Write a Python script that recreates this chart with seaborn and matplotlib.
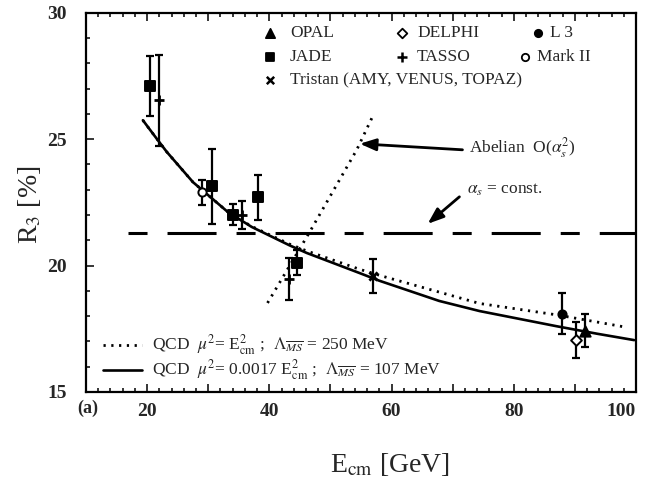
import matplotlib
matplotlib.use("Agg")
import matplotlib.pyplot as plt
from matplotlib.ticker import MultipleLocator, FuncFormatter
import pandas as pd
import seaborn as sns

# Three-jet rate measurements
experiment = ["JADE", "TASSO", "Mark II", "JADE", "JADE", "TASSO", "JADE",
              "TASSO", "JADE", "Tristan", "L3", "DELPHI", "OPAL"]
energy = [20.5, 21.9, 29.0, 30.6, 34.0, 35.6, 38.1, 43.2, 44.6, 56.9, 87.9, 90.2, 91.7]
r3 = [27.1, 26.55, 22.9, 23.13, 22.02, 22.0, 22.7, 19.48, 20.12, 19.6, 18.1, 17.06, 17.42]
r3_err = [1.2, 1.8, 0.5, 1.5, 0.4, 0.55, 0.9, 0.83, 0.5, 0.67, 0.8, 0.7, 0.65]

# QCD prediction, mu^2 = 0.0017 E^2, Lambda = 107 MeV
qcd_opt_e = [19.3, 21.0, 23.2, 27.5, 33.2, 37.1, 43.3, 46.1, 54.8, 58.0, 67.8, 74.4, 87.0, 93.7, 99.7]
qcd_opt_r = [25.75, 25.2, 24.5, 23.3, 22.12, 21.53, 20.8, 20.5, 19.7, 19.4, 18.6, 18.2, 17.6, 17.3, 17.05]
# QCD prediction, mu^2 = E^2, Lambda = 250 MeV
qcd_phys_e = [19.3, 21.0, 23.2, 27.5, 33.2, 37.1, 43.3, 46.1, 54.8, 58.5, 67.8, 74.4, 87.0, 94.0, 98.6]
qcd_phys_r = [25.75, 25.2, 24.5, 23.3, 22.12, 21.55, 20.85, 20.58, 19.85, 19.58, 18.95, 18.5, 18.05, 17.75, 17.55]
# Abelian O(alpha_s^2) prediction
abelian_e = [39.7, 46.6, 54.3, 56.8]
abelian_r = [18.52, 21.33, 24.58, 25.85]
# constant alpha_s
const_e = [16.9, 100.0]
const_r = [21.3, 21.3]

styles = {
    "OPAL":    dict(marker="^", facecolor="black", s=55),
    "DELPHI":  dict(marker="D", facecolor="white", s=30),
    "L3":      dict(marker="o", facecolor="black", s=35),
    "JADE":    dict(marker="s", facecolor="black", s=45),
    "TASSO":   dict(marker="+", facecolor="black", s=60),
    "Mark II": dict(marker="o", facecolor="white", s=35),
    "Tristan": dict(marker="x", facecolor="black", s=35),
}

sns.set_theme(style="ticks")
plt.rcParams["font.family"] = ["Liberation Serif", "DejaVu Serif"]
plt.rcParams["mathtext.fontset"] = "stix"
plt.rcParams["lines.scale_dashes"] = False

fig = plt.figure(figsize=(6.47, 4.93), dpi=100)
ax = fig.add_axes([0.133, 0.205, 0.850, 0.769])

df = pd.DataFrame({"exp": experiment, "E": energy, "R3": r3, "err": r3_err})

# theory curves
sns.lineplot(x=qcd_opt_e, y=qcd_opt_r, ax=ax, color="black", lw=1.9, sort=False)
sns.lineplot(x=qcd_phys_e, y=qcd_phys_r, ax=ax, color="black", lw=2.0,
             linestyle=(0, (1.6, 4.0)), sort=False)
sns.lineplot(x=abelian_e, y=abelian_r, ax=ax, color="black", lw=2.0,
             linestyle=(0, (1.6, 4.0)), sort=False)
sns.lineplot(x=const_e, y=const_r, ax=ax, color="black", lw=2.2,
             linestyle=(0, (13.7, 14.4, 35.3, 14.4)), sort=False)

# measurements with error bars
ax.errorbar(df["E"], df["R3"], yerr=df["err"], fmt="none", ecolor="black",
            elinewidth=1.6, capsize=3, capthick=1.6, zorder=3)
for name, st in styles.items():
    sub = df[df["exp"] == name]
    if sub.empty:
        continue
    lineart = st["marker"] in ("+", "x")
    kw = dict(color="black", linewidth=2.0) if lineart else dict(
        facecolor=st["facecolor"], edgecolor="black", linewidth=1.4)
    sns.scatterplot(data=sub, x="E", y="R3", marker=st["marker"], s=st["s"],
                    ax=ax, zorder=4, legend=False, **kw)

ax.set_xlim(10, 100)
ax.set_ylim(15, 30)
ax.xaxis.set_major_locator(MultipleLocator(10))
ax.xaxis.set_minor_locator(MultipleLocator(2))
ax.yaxis.set_major_locator(MultipleLocator(5))
ax.yaxis.set_minor_locator(MultipleLocator(1))
ax.xaxis.set_major_formatter(FuncFormatter(
    lambda v, _: f"{int(round(v))}" if round(v) % 20 == 0 and v >= 20 else ""))
ax.tick_params(which="both", direction="in", top=True, right=False, width=1.3)
ax.tick_params(which="major", length=6)
ax.tick_params(which="minor", length=3)
ax.tick_params(axis="x", pad=8)
ax.tick_params(axis="y", pad=14)
ax.set_xlabel("")
ax.set_ylabel("")

fig.canvas.draw()
for lab in ax.get_xticklabels() + ax.get_yticklabels():
    lab.set_fontsize(14)
    lab.set_fontweight("bold")
# keep the last energy label inside the frame
for tick in ax.xaxis.get_major_ticks():
    if abs(tick.get_loc() - 100) < 1e-6:
        tick.label1.set_horizontalalignment("right")
        tick.label1.set_x(100)
for sp in ax.spines.values():
    sp.set_linewidth(1.6)
    sp.set_color("black")

fig.text(0.603, 0.057, r"E$_{\rm cm}$ [GeV]", fontsize=20, ha="center", va="center")
fig.text(0.046, 0.584, r"R$_3$ [%]", fontsize=20, ha="center", va="center", rotation=90)
fig.text(0.136, 0.172, "(a)", fontsize=13, fontweight="bold", ha="center", va="center")

# experiment key
key_rows = [
    [("OPAL", 0.335, 0.371), ("DELPHI", 0.575, 0.602), ("L3", 0.822, 0.844)],
    [("JADE", 0.335, 0.371), ("TASSO", 0.575, 0.602), ("Mark II", 0.798, 0.820)],
    [("Tristan", 0.335, 0.371)],
]
key_text = {"OPAL": "OPAL", "DELPHI": "DELPHI", "L3": "L 3", "JADE": "JADE",
            "TASSO": "TASSO", "Mark II": "Mark II",
            "Tristan": "Tristan (AMY, VENUS, TOPAZ)"}
for row, yk in zip(key_rows, [0.947, 0.884, 0.823]):
    for name, xm, xt in row:
        st = styles[name]
        lineart = st["marker"] in ("+", "x")
        if lineart:
            ax.scatter([xm], [yk], marker=st["marker"], s=st["s"] * 0.8, color="black",
                       linewidths=1.8, transform=ax.transAxes, clip_on=False)
        else:
            ax.scatter([xm], [yk], marker=st["marker"], s=st["s"] * 0.8,
                       facecolor=st["facecolor"], edgecolor="black", linewidths=1.3,
                       transform=ax.transAxes, clip_on=False)
        ax.text(xt, yk, key_text[name], transform=ax.transAxes, fontsize=12.5,
                va="center", ha="left")

# theory key
ax.plot([0.031, 0.102], [0.124, 0.124], transform=ax.transAxes, color="black",
        lw=2.0, linestyle=(0, (1.6, 4.0)))
ax.text(0.12, 0.124,
        r"QCD  $\mu^2$= E$^2_{\rm cm}$ ;  $\Lambda_{\overline{MS}}$ = 250 MeV",
        transform=ax.transAxes, fontsize=12.5, va="center", ha="left")
ax.plot([0.031, 0.102], [0.058, 0.058], transform=ax.transAxes, color="black", lw=1.9)
ax.text(0.12, 0.058,
        r"QCD  $\mu^2$= 0.0017 E$^2_{\rm cm}$ ;  $\Lambda_{\overline{MS}}$ = 107 MeV",
        transform=ax.transAxes, fontsize=12.5, va="center", ha="left")

# annotations
arrow = dict(arrowstyle="-|>,head_length=0.8,head_width=0.3", color="black", lw=2.0,
             shrinkA=0, shrinkB=0)
ax.annotate("", xy=(54.8, 24.82), xytext=(71.6, 24.58), arrowprops=arrow)
ax.text(72.7, 24.66, r"Abelian  O($\alpha_s^2$)", fontsize=12.5, va="center", ha="left")
ax.annotate("", xy=(65.9, 21.65), xytext=(71.1, 22.72), arrowprops=arrow)
ax.text(72.4, 23.0, r"$\alpha_s$ = const.", fontsize=12.5, va="center", ha="left")

fig.savefig("out.png", dpi=100)
